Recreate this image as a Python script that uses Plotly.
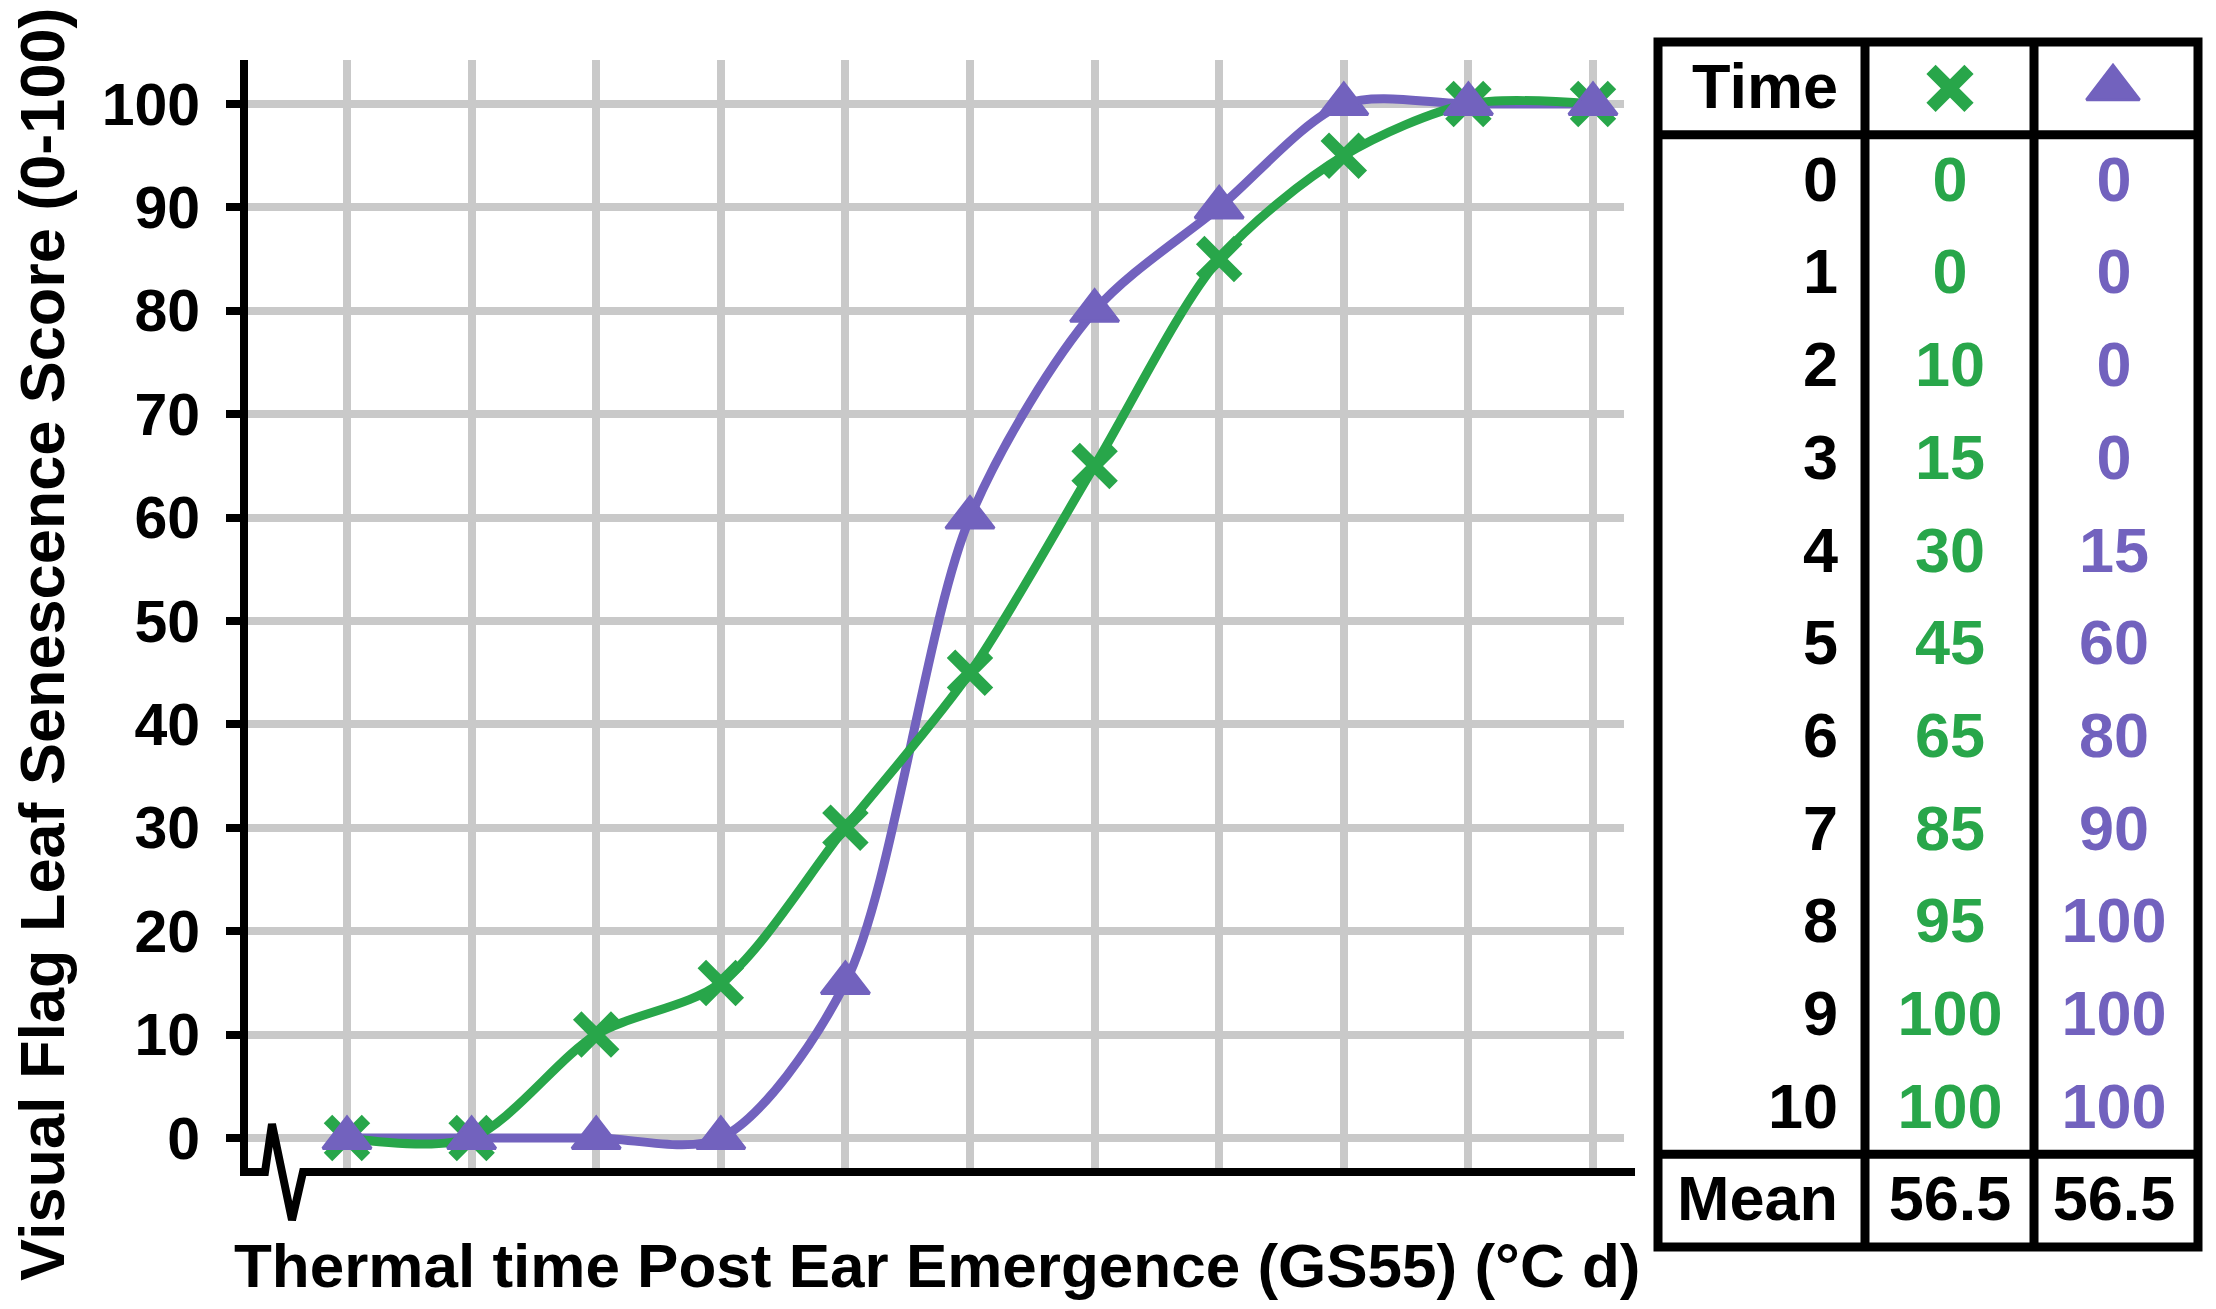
import plotly.graph_objects as go

# ---------------- data ----------------
times = [0, 1, 2, 3, 4, 5, 6, 7, 8, 9, 10]
green_scores = [0, 0, 10, 15, 30, 45, 65, 85, 95, 100, 100]
purple_scores = [0, 0, 0, 0, 15, 60, 80, 90, 100, 100, 100]
y_ticks = [0, 10, 20, 30, 40, 50, 60, 70, 80, 90, 100]
table_header = "Time"
table_footer = "Mean"
green_mean = "56.5"
purple_mean = "56.5"
y_title = "Visual Flag Leaf Senescence Score (0-100)"
x_title = "Thermal time Post Ear Emergence (GS55) (°C d)"

# ---------------- style ----------------
W, H = 2216, 1309
GREEN = "#28a64a"
PURPLE = "#7262be"
GRID = "#c9c9c9"
FONT = "Liberation Sans"

def px(x):
    return x / W

def py(y):
    return 1 - y / H

fig = go.Figure()

# lines first (purple below green), then markers (green X below purple triangles)
fig.add_trace(go.Scatter(x=times, y=purple_scores, mode="lines",
                         line=dict(color=PURPLE, width=9, shape="spline", smoothing=0.85),
                         hoverinfo="skip"))
fig.add_trace(go.Scatter(x=times, y=green_scores, mode="lines",
                         line=dict(color=GREEN, width=9, shape="spline", smoothing=0.85),
                         hoverinfo="skip"))
fig.add_trace(go.Scatter(x=times, y=green_scores, mode="markers",
                         marker=dict(symbol="x-thin", size=38, color=GREEN,
                                     line=dict(color=GREEN, width=12))))
fig.add_trace(go.Scatter(x=times, y=purple_scores, mode="markers",
                         marker=dict(symbol="triangle-up", size=42, color=PURPLE,
                                     line=dict(color=PURPLE, width=3))))

# ---------------- table (second pair of axes) ----------------
rows = list(range(len(times)))
col1_x, col2_x, col3_x = 1838, 1950, 2114
tfont = dict(family=FONT, size=63, weight="bold")

R0, RS = 181, 92.7           # pixel centre of row 0, row pitch
TXT_SHIFT = 4                # text baseline nudge (px)

fig.add_trace(go.Scatter(x=[col1_x] * len(times), y=rows, mode="text",
                         text=[str(t) for t in times], textposition="middle left",
                         textfont=dict(color="black", **tfont), xaxis="x2", yaxis="y3"))
fig.add_trace(go.Scatter(x=[col2_x] * len(times), y=rows, mode="text",
                         text=[str(v) for v in green_scores], textposition="middle center",
                         textfont=dict(color=GREEN, **tfont), xaxis="x2", yaxis="y3"))
fig.add_trace(go.Scatter(x=[col3_x] * len(times), y=rows, mode="text",
                         text=[str(v) for v in purple_scores], textposition="middle center",
                         textfont=dict(color=PURPLE, **tfont), xaxis="x2", yaxis="y3"))
# header / footer
fig.add_trace(go.Scatter(x=[col1_x, col1_x], y=[-1, len(times)], mode="text",
                         text=[table_header, table_footer], textposition="middle left",
                         textfont=dict(color="black", **tfont), xaxis="x2", yaxis="y3"))
fig.add_trace(go.Scatter(x=[col2_x, col3_x], y=[len(times), len(times)], mode="text",
                         text=[green_mean, purple_mean], textposition="middle center",
                         textfont=dict(color="black", **tfont), xaxis="x2", yaxis="y3"))
fig.add_trace(go.Scatter(x=[col2_x], y=[-1], mode="markers", xaxis="x2", yaxis="y2",
                         marker=dict(symbol="x-thin", size=38, color=GREEN,
                                     line=dict(color=GREEN, width=13))))
fig.add_trace(go.Scatter(x=[2113], y=[-1], mode="markers", xaxis="x2", yaxis="y2",
                         marker=dict(symbol="triangle-up", size=46, color=PURPLE,
                                     line=dict(color=PURPLE, width=3))))

# table borders
shapes = []
bl = dict(color="black", width=9)
tx0, tx1 = 1658, 2198
ty0, ty1 = -1.5, len(times) + 0.5
shapes.append(dict(type="rect", xref="x2", yref="y2", x0=tx0, x1=tx1, y0=ty0, y1=ty1, line=bl))
for cx in (1865, 2034):
    shapes.append(dict(type="line", xref="x2", yref="y2", x0=cx, x1=cx, y0=ty0, y1=ty1, line=bl))
for ry in (-0.5, len(times) - 0.5):
    shapes.append(dict(type="line", xref="x2", yref="y2", x0=tx0, x1=tx1, y0=ry, y1=ry, line=bl))

# axes lines (y axis + broken x axis)
shapes.append(dict(type="line", xref="paper", yref="paper",
                   x0=px(244), x1=px(244), y0=py(60), y1=py(1176),
                   line=dict(color="black", width=8)))
zig = [(244, 1172), (265, 1172), (272, 1124), (292, 1220), (303, 1172), (1635, 1172)]
path = "M " + " L ".join(f"{px(a):.5f},{py(b):.5f}" for a, b in zig)
shapes.append(dict(type="path", xref="paper", yref="paper", path=path,
                   line=dict(color="black", width=8)))

x0_px, x10_px = 347, 1593
unit = (x10_px - x0_px) / 10
xr = [(244 - x0_px) / unit, (1624 - x0_px) / unit]
yunit = (1138 - 104) / 100
yr = [-(1172 - 1138) / yunit, 100 + (104 - 60) / yunit]

fig.update_layout(
    width=W, height=H,
    margin=dict(l=0, r=0, t=0, b=0),
    paper_bgcolor="white", plot_bgcolor="rgba(0,0,0,0)",
    showlegend=False,
    font=dict(family=FONT, color="black"),
    xaxis=dict(domain=[px(244), px(1624)], range=xr, tickvals=times, showticklabels=False,
               showgrid=True, gridcolor=GRID, gridwidth=8, zeroline=False, showline=False,
               ticks=""),
    yaxis=dict(domain=[py(1172), py(60)], range=yr, tickvals=y_ticks,
               showgrid=True, gridcolor=GRID, gridwidth=8, zeroline=False, showline=False,
               ticks="outside", ticklen=17, tickwidth=8, tickcolor="black",
               ticklabelstandoff=14,
               tickfont=dict(family=FONT, size=59, weight="bold", color="black")),
    xaxis2=dict(domain=[px(1644), px(2212)], range=[1644, 2212], visible=False),
    yaxis2=dict(domain=[py(R0 + RS * 11.65), py(R0 - RS * 1.65)],
                range=[11.65, -1.65], visible=False),
    yaxis3=dict(domain=[py(R0 + TXT_SHIFT + RS * 11.65), py(R0 + TXT_SHIFT - RS * 1.65)],
                range=[11.65, -1.65], visible=False),
    shapes=shapes,
    annotations=[
        dict(text=y_title, xref="paper", yref="paper", x=px(42), y=py(645),
             textangle=-90, showarrow=False, xanchor="center", yanchor="middle",
             font=dict(family=FONT, size=63, weight="bold", color="black")),
        dict(text=x_title, xref="paper", yref="paper", x=px(937), y=py(1265),
             showarrow=False, xanchor="center", yanchor="middle",
             font=dict(family=FONT, size=62, weight="bold", color="black")),
    ],
)

fig.write_html("out.html", config={"displayModeBar": False},
               post_script="document.body.style.margin='0';")
